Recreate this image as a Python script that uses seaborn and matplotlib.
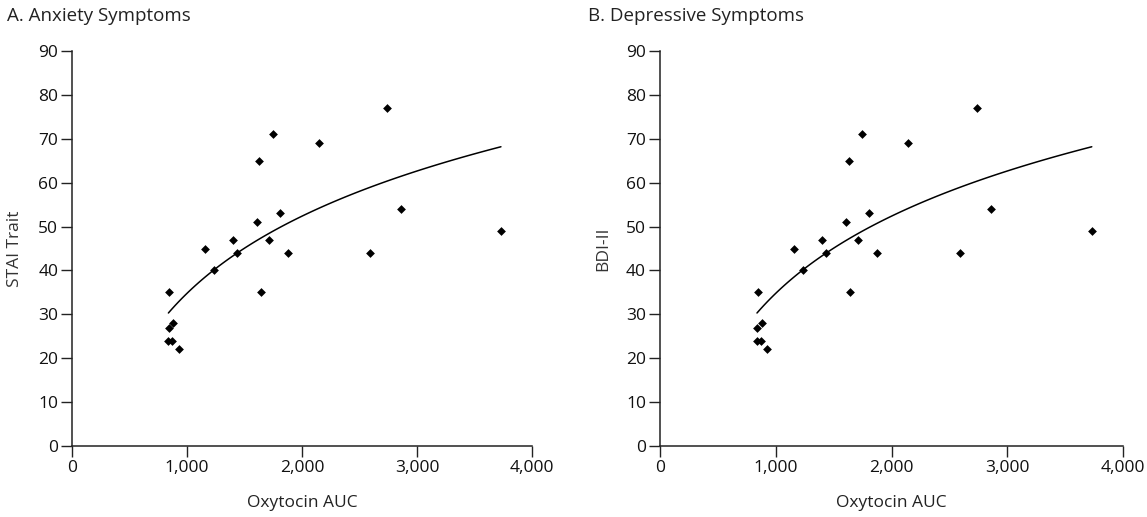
import numpy as np
import pandas as pd
import matplotlib
matplotlib.use("Agg")
import matplotlib.pyplot as plt
import seaborn as sns

# Oxytocin AUC and symptom scores (same points in both panels)
oxytocin_auc = [844, 841, 878, 838, 869, 928, 1157, 1232, 1396, 1437, 1611,
                1629, 1642, 1710, 1747, 1809, 1874, 2144, 2588, 2737, 2858, 3730]
stai_trait = [35, 27, 28, 24, 24, 22, 45, 40, 47, 44, 51,
              65, 35, 47, 71, 53, 44, 69, 44, 77, 54, 49]
bdi_ii = [35, 27, 28, 24, 24, 22, 45, 40, 47, 44, 51,
          65, 35, 47, 71, 53, 44, 69, 44, 77, 54, 49]

panel_titles = ["A. Anxiety Symptoms", "B. Depressive Symptoms"]
y_labels = ["STAI Trait", "BDI-II"]
x_label = "Oxytocin AUC"
x_ticks = [0, 1000, 2000, 3000, 4000]
y_ticks = [0, 10, 20, 30, 40, 50, 60, 70, 80, 90]

df = pd.DataFrame({"auc": oxytocin_auc, "stai": stai_trait, "bdi": bdi_ii})

sns.set_style("ticks")
plt.rcParams["font.family"] = ["Open Sans", "DejaVu Sans"]

fig = plt.figure(figsize=(11.47, 5.17), dpi=100)
axes = [fig.add_axes([0.0628, 0.1373, 0.401, 0.764]),
        fig.add_axes([0.5754, 0.1373, 0.4037, 0.764])]

for ax, col, ylab, title, tx in zip(axes, ["stai", "bdi"], y_labels, panel_titles, [0.006, 0.5126]):
    sns.regplot(data=df, x="auc", y=col, ax=ax, logx=True, ci=None, marker="D",
                scatter_kws=dict(s=20, color="black", linewidths=0, alpha=1),
                line_kws=dict(color="black", lw=1.1))
    ax.set_xlim(0, 4000)
    ax.set_ylim(0, 90)
    ax.set_xticks(x_ticks)
    ax.set_xticklabels([f"{t:,}" for t in x_ticks])
    ax.set_yticks(y_ticks)
    ax.set_xlabel(x_label, fontsize=12.5, color="#222222", labelpad=14)
    ax.set_ylabel(ylab, fontsize=12.5, color="#333333", labelpad=11)
    ax.tick_params(axis="both", labelsize=12.5, length=8, width=1, color="#222222",
                   labelcolor="#111111", direction="out", pad=2)
    for s in ["top", "right"]:
        ax.spines[s].set_visible(False)
    for s in ["left", "bottom"]:
        ax.spines[s].set_color("#222222")
        ax.spines[s].set_linewidth(1.1)
    fig.text(tx, 0.969, title, fontsize=13.5, color="#222222", ha="left", va="center")

fig.savefig("out.png", dpi=100)
